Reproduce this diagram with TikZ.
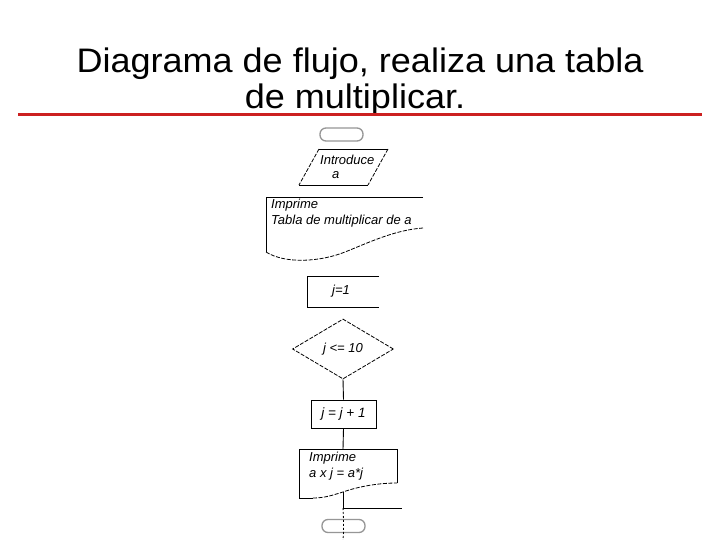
\documentclass[tikz,border=0pt]{standalone}
\usepackage{fontspec}
\setmainfont{Liberation Sans}
\newfontfamily\titlefont[FakeStretch=1.06]{Liberation Sans}
\usetikzlibrary{shapes.geometric}
\definecolor{titlered}{RGB}{204,32,32}
\definecolor{termgray}{RGB}{150,150,150}
\tikzset{
  titletext/.style={font=\titlefont\fontsize{34}{38}\selectfont, anchor=base, inner sep=0pt},
  fctext/.style={font=\itshape\fontsize{13}{15}\selectfont, inner sep=0pt},
  fcline/.style={line width=0.9pt, black},
  fcdash/.style={line width=0.8pt, black, dash pattern=on 4pt off 1.5pt},
  termbox/.style={draw=termgray, line width=1.3pt, rounded corners=6pt, minimum width=43pt, minimum height=13pt, inner sep=0pt},
  decbox/.style={diamond, draw=black, line width=0.8pt, dash pattern=on 4pt off 1.5pt, minimum width=101pt, minimum height=60pt, inner sep=0pt, font=\itshape\fontsize{13}{15}\selectfont},
  procbox/.style={draw=black, line width=0.9pt, minimum width=65pt, minimum height=28pt, inner sep=0pt, font=\itshape\fontsize{13.5}{15}\selectfont},
}
\begin{document}
\begin{tikzpicture}[x=1pt,y=-1pt]
\useasboundingbox (0,0) rectangle (720,540);
\fill[white] (0,0) rectangle (720,540);
% title
\node[titletext] (t1) at (360,73) {Diagrama de flujo, realiza una tabla};
\node[titletext] (t2) at (355,109) {de multiplicar.};
\draw[titlered, line width=3pt] (18,115) -- (702,115);
% start terminal
\node[termbox] (start) at (341.5,134.5) {};
% input parallelogram
\draw[fcdash] (319,149) -- (299,185);
\draw[fcdash] (388,149) -- (368,185);
\draw[fcline] (319,149) -- (388,149);
\draw[fcline] (299,185) -- (368,185);
\node[fctext, anchor=west] (in) at (320,160) {Introduce};
\node[fctext, anchor=west] (ina) at (332,175) {a};
% document 1
\draw[fcline] (423,197) -- (266,197) -- (266,252);
\draw[fcdash] (266,252) .. controls (285,264) and (320,262) .. (345,252) .. controls (370,242) and (395,230) .. (423,228);
\node[fctext, anchor=north west, align=left] (doc1) at (271,199) {Imprime\\[1pt]Tabla de multiplicar de a};
% j=1 box (open right)
\draw[fcline] (379,276) -- (307,276) -- (307,307) -- (379,307);
\node[fctext] (init) at (341,291) {j=1};
% decision
\node[decbox] (dec) at (343,349) {j <= 10};
% increment
\node[procbox] (inc) at (343.5,414) {j = j + 1};
\draw[fcline] (dec.south) -- (inc.north);
% document 2
\coordinate (d2top) at (343,449);
\draw[fcline] (397,483) -- (397,449) -- (299,449) -- (299,498) -- (313,498);
\draw[fcdash] (313,498) .. controls (325,498) and (333,495) .. (343,492) .. controls (360,486) and (380,483) .. (397,483);
\node[fctext, anchor=north west, align=left] (doc2) at (309,452) {Imprime\\[1pt]a x j = a*j};
\draw[fcline] (inc.south) -- (d2top);
% exit
\coordinate (w2) at (343,492);
\coordinate (jn) at (343,508);
\coordinate (out) at (402,508);
\coordinate (bot) at (343,540);
\draw[fcline] (w2) -- (jn) -- (out);
\node[termbox] (stop) at (343.5,526) {};
\draw[line width=0.9pt, black, dash pattern=on 2pt off 2pt] (jn) -- (stop.north) -- (stop.south) -- (bot);
\end{tikzpicture}
\end{document}
